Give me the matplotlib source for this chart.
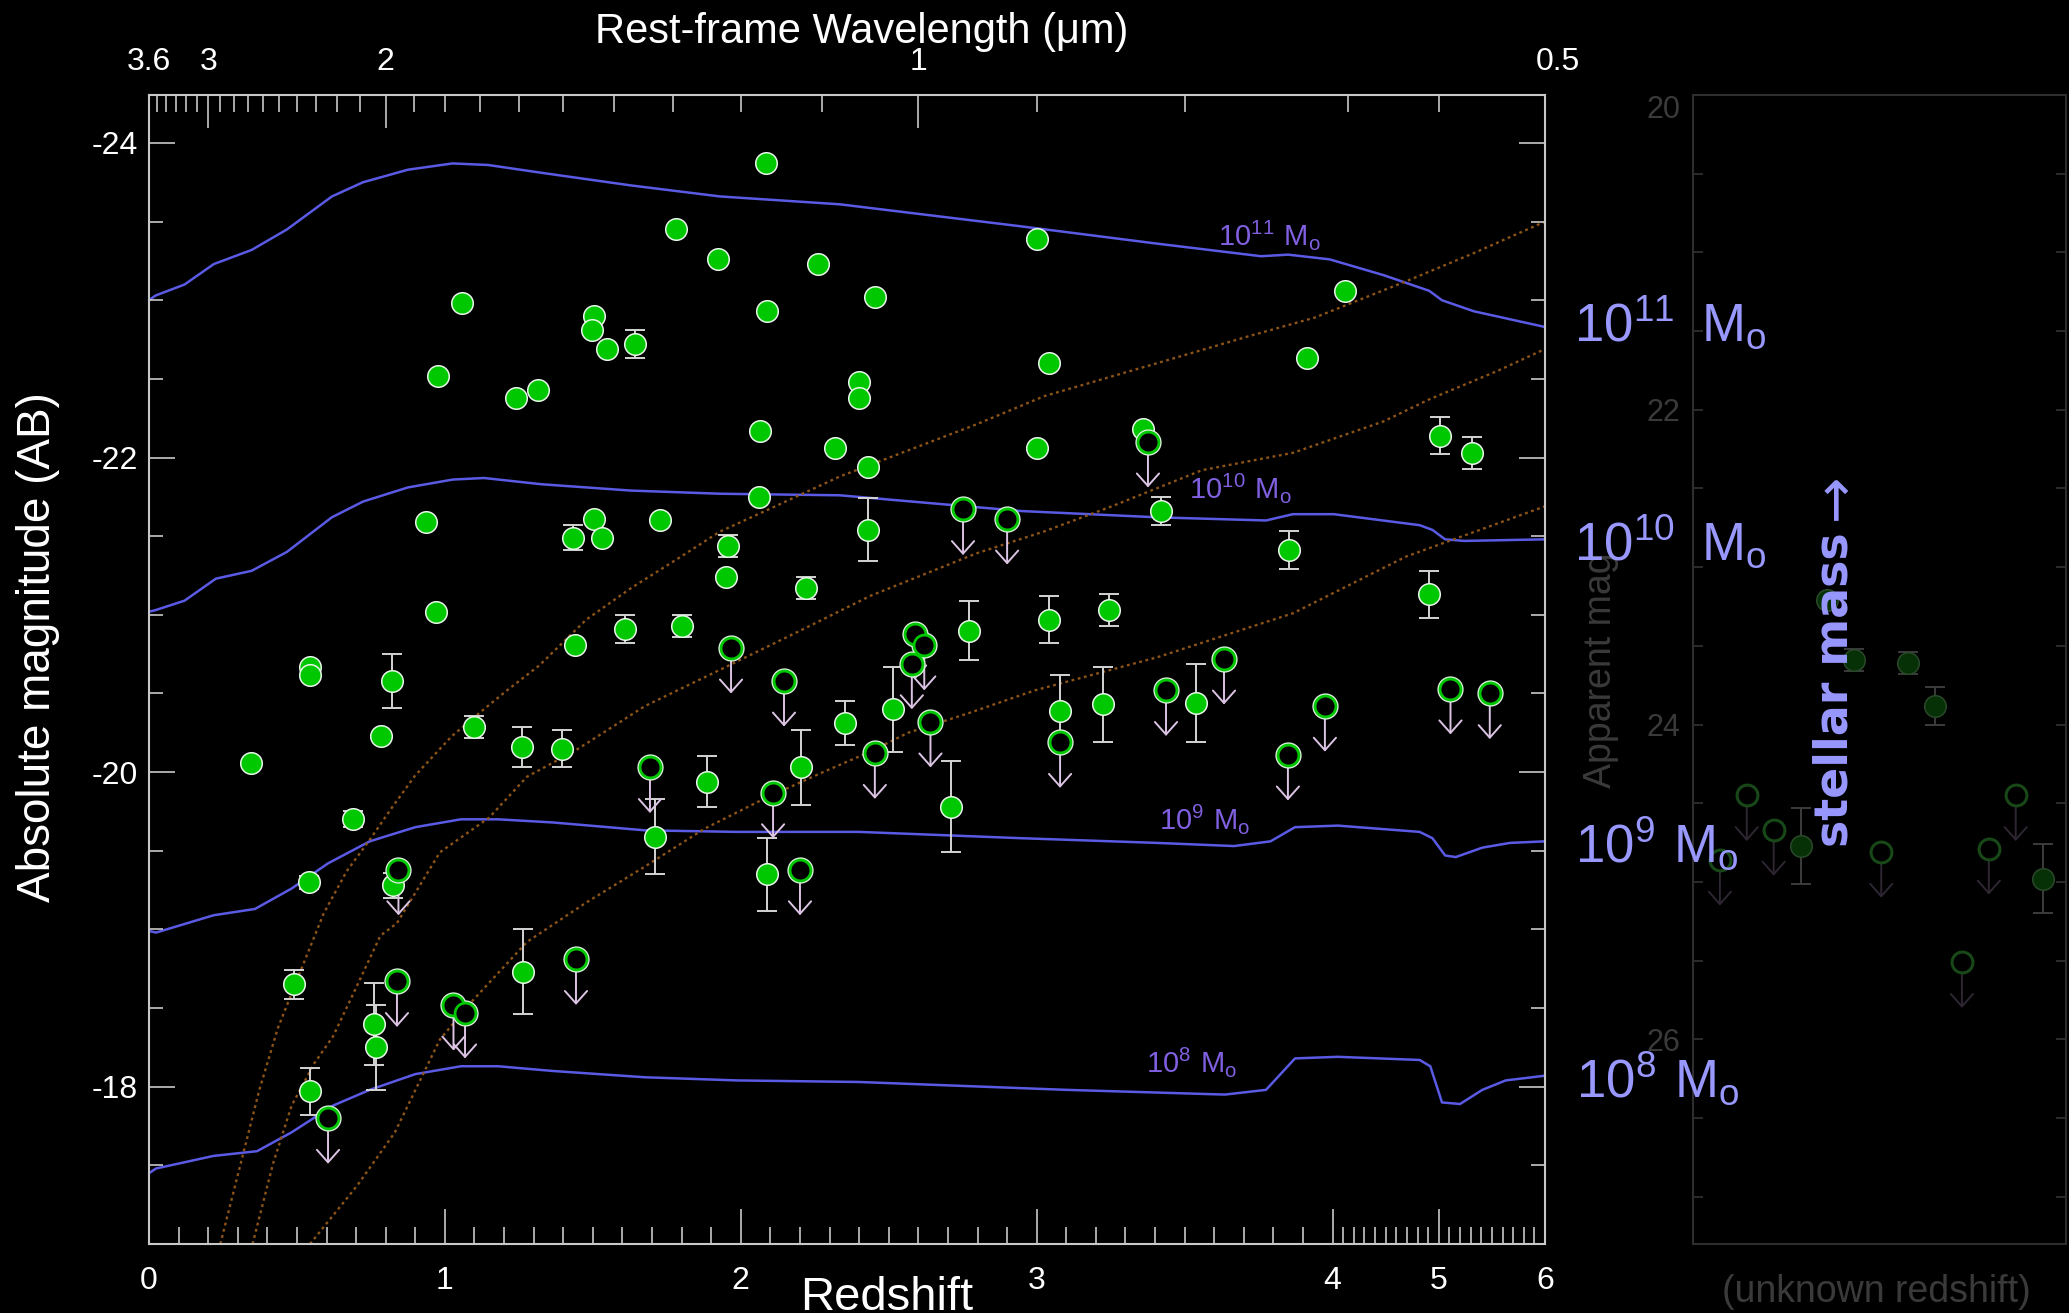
import numpy as np
import matplotlib
matplotlib.use('Agg')
import matplotlib.pyplot as plt

plt.rcParams['font.family'] = ['Liberation Sans', 'DejaVu Sans']
plt.rcParams['mathtext.default'] = 'regular'
plt.rcParams['axes.unicode_minus'] = False

# ---- stellar mass tracks: redshift vs absolute magnitude ----
trk11_z = [0.0, 0.022, 0.12, 0.219, 0.347, 0.466, 0.618, 0.723, 0.875, 1.026, 1.146, 1.328, 1.629,
           1.93, 2.335, 2.947, 3.407, 3.758, 3.85, 3.99, 4.478, 4.91, 5.03, 5.33, 6.0]
trk11_m = [-23.0, -23.03, -23.10, -23.23, -23.32, -23.45, -23.66, -23.75, -23.83, -23.87, -23.86, -23.81, -23.73,
           -23.66, -23.61, -23.47, -23.36, -23.28, -23.29, -23.26, -23.16, -23.06, -23.00, -22.93, -22.83]
trk10_z = [0.0, 0.022, 0.12, 0.226, 0.347, 0.466, 0.618, 0.723, 0.875, 1.026, 1.132, 1.328, 1.629,
           1.93, 2.335, 2.947, 3.407, 3.775, 3.866, 4.01, 4.82, 4.94, 5.06, 5.24, 6.0]
trk10_m = [-21.02, -21.03, -21.09, -21.23, -21.28, -21.40, -21.62, -21.72, -21.81, -21.86, -21.87, -21.83, -21.79,
           -21.77, -21.76, -21.66, -21.62, -21.60, -21.64, -21.64, -21.57, -21.54, -21.48, -21.47, -21.48]
trk9_z = [0.0, 0.024, 0.218, 0.358, 0.482, 0.605, 0.746, 0.90, 1.054, 1.18, 1.365, 1.676, 1.987, 2.40,
          2.947, 3.407, 3.667, 3.79, 3.873, 4.05, 4.82, 4.94, 5.06, 5.16, 5.41, 5.67, 6.0]
trk9_m = [-18.99, -18.98, -19.09, -19.13, -19.26, -19.42, -19.56, -19.65, -19.70, -19.70, -19.68, -19.63, -19.62, -19.62,
          -19.58, -19.55, -19.53, -19.56, -19.65, -19.66, -19.62, -19.58, -19.47, -19.46, -19.52, -19.55, -19.56]
trk8_z = [0.0, 0.024, 0.218, 0.365, 0.482, 0.622, 0.746, 0.90, 1.054, 1.18, 1.365, 1.676, 1.987, 2.40,
          3.10, 3.636, 3.775, 3.873, 4.05, 4.82, 4.92, 5.03, 5.20, 5.41, 5.63, 6.0]
trk8_m = [-17.45, -17.48, -17.56, -17.59, -17.71, -17.88, -17.98, -18.08, -18.13, -18.13, -18.10, -18.06, -18.04, -18.03,
          -17.98, -17.95, -17.98, -18.18, -18.19, -18.17, -18.13, -17.90, -17.89, -17.98, -18.04, -18.07]

# ---- detection limits (dotted) ----
limA_z = [0.241, 0.303, 0.373, 0.435, 0.513, 0.59, 0.668, 0.746, 0.823, 0.90, 1.024, 1.119, 1.21, 1.32,
          1.478, 1.629, 1.781, 1.93, 2.082, 2.335, 2.795, 3.025, 3.407, 3.714, 3.94, 4.69, 5.33, 6.0]
limA_m = [-17.00, -17.46, -17.98, -18.37, -18.74, -19.10, -19.37, -19.57, -19.78, -19.98, -20.23, -20.38, -20.52, -20.68,
          -20.97, -21.17, -21.35, -21.53, -21.66, -21.88, -22.21, -22.39, -22.60, -22.77, -22.89, -23.12, -23.30, -23.50]
limB_z = [0.35, 0.419, 0.482, 0.559, 0.622, 0.70, 0.782, 0.838, 0.983, 1.149, 1.277, 1.443, 1.568, 1.676,
          1.94, 2.212, 2.437, 2.795, 3.025, 3.254, 3.559, 3.866, 4.48, 4.91, 5.55, 6.0]
limB_m = [-17.00, -17.51, -17.88, -18.15, -18.32, -18.63, -18.96, -19.04, -19.49, -19.71, -19.97, -20.14, -20.29, -20.42,
          -20.66, -20.91, -21.12, -21.39, -21.53, -21.69, -21.92, -22.03, -22.23, -22.37, -22.55, -22.69]
limC_z = [0.544, 0.703, 0.831, 0.983, 1.09, 1.277, 1.477, 1.676, 1.877, 2.078, 2.278, 2.437, 2.565, 2.778,
          2.994, 3.407, 3.866, 4.69, 6.0]
limC_m = [-17.00, -17.37, -17.71, -18.30, -18.54, -18.92, -19.17, -19.40, -19.64, -19.83, -20.00, -20.13, -20.25, -20.38,
          -20.52, -20.73, -21.01, -21.37, -21.69]

# ---- galaxies with redshift: detections ----
det_z = [0.344, 0.545, 0.545, 0.54, 0.49, 0.544, 0.69, 0.784, 0.821, 0.823, 0.76, 0.767, 0.977, 0.97, 0.936,
         1.058, 1.10, 1.24, 1.315, 1.26, 1.264, 1.396, 1.433, 1.504, 1.53, 1.44, 1.504, 1.497, 1.548, 1.642,
         1.61, 1.727, 1.71, 1.78, 1.80, 1.886, 1.923, 1.957, 1.95, 2.065, 2.06, 2.085, 2.09, 2.09, 2.203,
         2.22, 2.26, 2.32, 2.352, 2.40, 2.40, 2.43, 2.43, 2.453, 2.514, 2.71, 2.77, 3.0, 3.0, 3.04,
         3.04, 3.08, 3.224, 3.245, 3.36, 3.42, 3.537, 3.853, 3.913, 4.116, 4.91, 5.01, 5.31]
det_m = [-20.06, -20.67, -20.62, -19.30, -18.65, -17.97, -19.70, -20.23, -20.58, -19.28, -18.40, -18.25, -22.52, -21.02, -21.59,
         -22.98, -20.29, -22.38, -22.43, -20.16, -18.73, -20.15, -21.49, -21.61, -21.49, -20.81, -22.90, -22.81, -22.69, -22.72,
         -20.91, -21.60, -19.59, -23.45, -20.93, -19.94, -23.26, -21.44, -21.24, -22.17, -21.75, -23.87, -22.93, -19.35, -20.03,
         -21.17, -23.23, -22.06, -20.31, -22.48, -22.38, -21.94, -21.54, -23.02, -20.40, -19.78, -20.90, -23.39, -22.06, -22.60,
         -20.97, -20.39, -20.43, -21.03, -22.18, -21.66, -20.44, -21.41, -22.63, -23.06, -21.13, -22.14, -22.03]
det_err = [0, 0, 0, 0.04, 0.09, 0.15, 0.05, 0, 0.17, 0.08, 0.26, 0.27, 0, 0, 0,
           0, 0.07, 0, 0, 0.13, 0.27, 0.12, 0.08, 0, 0, 0, 0, 0, 0, 0.09,
           0.09, 0, 0.24, 0, 0.07, 0.16, 0, 0.07, 0, 0, 0, 0, 0, 0.23, 0.24,
           0.07, 0, 0, 0.14, 0, 0, 0, 0.2, 0, 0.27, 0.29, 0.19, 0, 0, 0,
           0.15, 0.23, 0.24, 0.1, 0, 0.09, 0.25, 0.12, 0, 0, 0.15, 0.12, 0.1]

# ---- galaxies with redshift: upper limits ----
ul_z = [0.605, 0.843, 0.838, 1.029, 1.068, 1.443, 1.693, 1.967, 2.109, 2.146, 2.20, 2.453, 2.578,
        2.589, 2.62, 2.641, 2.751, 2.90, 3.079, 3.376, 3.437, 3.633, 3.849, 3.974, 5.11, 5.48]
ul_m = [-17.80, -19.38, -18.67, -18.52, -18.47, -18.81, -20.03, -20.79, -19.87, -20.58, -19.38, -20.12, -20.69,
        -20.88, -20.81, -20.32, -21.67, -21.61, -20.19, -22.10, -20.52, -20.72, -20.11, -20.42, -20.53, -20.50]

# ---- unknown redshift panel: apparent magnitude ----
unk_idx = [1, 2, 3, 4, 5, 6, 7, 8, 9, 10, 11, 12, 13]
unk_mag = [24.86, 24.45, 24.67, 24.77, 23.21, 23.59, 24.81, 23.61, 23.88, 25.51, 24.79, 24.45, 24.98]
unk_err = [0, 0, 0, 0.24, 0, 0.07, 0, 0.07, 0.12, 0, 0, 0, 0.22]
unk_limit = [1, 1, 1, 0, 0, 0, 1, 0, 0, 1, 1, 1, 0]

z_ticks = [0, 1, 2, 3, 4, 5, 6]
abs_ticks = [-24, -22, -20, -18]
wl_major = [3.6, 3, 2, 1]
wl_minor = [3.5, 3.4, 3.3, 3.2, 3.1, 2.9, 2.8, 2.7, 2.6, 2.5, 2.4, 2.3, 2.2, 2.1,
            1.9, 1.8, 1.7, 1.6, 1.5, 1.4, 1.3, 1.2, 1.1, 0.9, 0.8, 0.7, 0.6]
app_ticks = [20, 22, 24, 26]

W, H = 2069, 1313
def fx(x):
    return x / W
def fy(y):
    return 1 - y / H

fig = plt.figure(figsize=(W / 100, H / 100), dpi=100, facecolor='black')
L, R, T, B = 149, 1545, 95, 1244
ax = fig.add_axes([fx(L), fy(B), (R - L) / W, (B - T) / H], facecolor='black')

# redshift axis is compressed above z=4
SQ = 106.2 / 295.9
def fwd(z):
    z = np.asarray(z, dtype=float)
    return np.where(z <= 4, z, 4 + (z - 4) * SQ)
def inv(u):
    u = np.asarray(u, dtype=float)
    return np.where(u <= 4, u, 4 + (u - 4) / SQ)

ax.set_xscale('function', functions=(fwd, inv))
ax.set_xlim(0, 6)
ax.set_ylim(-17.01, -24.305)

TRACK = '#5a5ae4'
LIMIT = '#8c5418'
for zz, mm in [(trk11_z, trk11_m), (trk10_z, trk10_m), (trk9_z, trk9_m), (trk8_z, trk8_m)]:
    ax.plot(zz, mm, color=TRACK, lw=1.8, zorder=1)
for zz, mm in [(limA_z, limA_m), (limB_z, limB_m), (limC_z, limC_m)]:
    ax.plot(zz, mm, color=LIMIT, lw=1.7, ls=(0, (1.2, 1.5)), zorder=1)

dz = np.array(det_z); dm = np.array(det_m); de = np.array(det_err)
has = de > 0
ax.errorbar(dz[has], dm[has], yerr=de[has], fmt='none', ecolor='#d4d4d4',
            elinewidth=1.4, capsize=7, capthick=1.4, zorder=2)
ARROW = 0.29
for z, m in zip(ul_z, ul_m):
    ax.annotate('', xy=(z, m + ARROW), xytext=(z, m),
                arrowprops=dict(arrowstyle='->,head_length=0.45,head_width=0.4', color='#dcc4e4',
                                lw=1.4, shrinkA=0, shrinkB=0, mutation_scale=20), zorder=2)
ax.plot(dz, dm, 'o', ls='none', ms=15.5, mfc='#00c800', mec='#e8f8e8', mew=1.1, zorder=4)
ax.plot(ul_z, ul_m, 'o', ls='none', ms=15.5, mfc='none', mec='#d8f0d8', mew=3.4, zorder=4)
ax.plot(ul_z, ul_m, 'o', ls='none', ms=15, mfc='black', mec='#00c800', mew=2.0, zorder=5)

for s in ax.spines.values():
    s.set_color('#c8c8c8')
    s.set_linewidth(1.5)
ax.set_xticks(z_ticks, labels=[str(v) for v in z_ticks])
ax.set_xticks(np.arange(0, 6.001, 0.1), minor=True)
ax.set_yticks(abs_ticks, labels=[str(v) for v in abs_ticks])
ax.set_yticks(np.arange(-24.0, -16.99, 0.5), minor=True)
ax.tick_params(axis='both', which='both', direction='in', colors='#c8c8c8', labelcolor='white', labelsize=23)
ax.tick_params(axis='x', which='major', length=25, width=1.2, pad=16, top=False)
ax.tick_params(axis='x', which='minor', length=12, width=1.2, top=False)
ax.tick_params(axis='y', which='major', length=19, width=1.2, pad=8, left=True, right=True)
ax.tick_params(axis='y', which='minor', length=10, width=1.2, left=True, right=True)

# rest-frame wavelength on top
tw = ax.twiny()
tw.set_xscale('function', functions=(fwd, inv))
tw.set_xlim(0, 6)
tw.set_xticks([3.6 / w - 1 for w in wl_major], labels=['3.6', '3', '2', '1'])
tw.set_xticks([3.6 / w - 1 for w in wl_minor], minor=True)
for s in tw.spines.values():
    s.set_visible(False)
tw.tick_params(axis='x', which='both', direction='in', colors='#c8c8c8', labelcolor='white', labelsize=23)
tw.tick_params(axis='x', which='major', length=24, width=1.2, pad=13)
tw.tick_params(axis='x', which='minor', length=12, width=1.2)
fig.text(fx(1558), fy(62), '0.5', ha='center', va='center', color='white', fontsize=23)

fig.text(fx(38), fy(647), 'Absolute magnitude (AB)', rotation=90, ha='center', va='center',
         color='white', fontsize=33)
fig.text(fx(887), fy(1310), 'Redshift', ha='center', va='baseline', color='white', fontsize=34)
fig.text(fx(862), fy(43), 'Rest-frame Wavelength (μm)', ha='center', va='baseline', color='white', fontsize=30)

PURP = '#8060e0'
for x, y, s in [(1218, 245, r'$10^{11}\ M_o$'), (1189, 498, r'$10^{10}\ M_o$'),
                (1159, 829, r'$10^{9}\ M_o$'), (1146, 1072, r'$10^{8}\ M_o$')]:
    fig.text(fx(x), fy(y), s, color=PURP, fontsize=21, ha='left', va='baseline')

# unknown-redshift panel
ax2 = fig.add_axes([fx(1693), fy(B), (2066 - 1693) / W, (B - T) / H], facecolor='black')
ax2.set_xlim(0, 13.87)
ax2.set_ylim(27.30, 20.0)
ui = np.array(unk_idx); um = np.array(unk_mag); ue = np.array(unk_err); ul = np.array(unk_limit) == 1
he = ue > 0
ax2.errorbar(ui[he], um[he], yerr=ue[he], fmt='none', ecolor='#3c3c3c', elinewidth=1.4,
             capsize=7, capthick=1.4, zorder=2)
for x, m in zip(ui[ul], um[ul]):
    ax2.annotate('', xy=(x, m + ARROW), xytext=(x, m),
                 arrowprops=dict(arrowstyle='->,head_length=0.45,head_width=0.4', color='#2e2632',
                                 lw=1.4, shrinkA=0, shrinkB=0, mutation_scale=20), zorder=2)
ax2.plot(ui[~ul], um[~ul], 'o', ls='none', ms=15.5, mfc='#063006', mec='#2a482a', mew=1.1, zorder=4)
ax2.plot(ui[ul], um[ul], 'o', ls='none', ms=15, mfc='black', mec='#184818', mew=2.2, zorder=4)
for s in ax2.spines.values():
    s.set_color('#2e2e2e')
    s.set_linewidth(1.5)
ax2.set_xticks([])
ax2.set_yticks(app_ticks, labels=[str(v) for v in app_ticks])
ax2.set_yticks(np.arange(20, 27.01, 0.5), minor=True)
ax2.tick_params(axis='y', which='both', direction='in', left=True, right=True, colors='#333333',
                labelcolor='#3a3a3a', labelsize=22, length=7, width=1.2, pad=9)
ax2.get_yticklabels()[0].set_verticalalignment('top')

fig.text(fx(1601), fy(670), 'Apparent mag', rotation=90, ha='center', va='center',
         color='#3a3a3a', fontsize=27, zorder=1)
fig.text(fx(1876), fy(1292), '(unknown redshift)', ha='center', va='center', color='#3a3a3a', fontsize=27)

LAV = '#9898ff'
for x, y, s in [(1574, 341, r'$10^{11}\ \,M_o$'), (1574, 560, r'$10^{10}\ \,M_o$'),
                (1575, 862, r'$10^{9}\ M_o$'), (1576, 1097, r'$10^{8}\ M_o$')]:
    fig.text(fx(x), fy(y), s, color=LAV, fontsize=38, ha='left', va='baseline', zorder=6)
fig.text(fx(1835), fy(690), 'stellar mass', rotation=90, ha='center', va='center', color=LAV,
         fontsize=33, fontweight='bold', family=['DejaVu Sans'], zorder=6)
fig.text(fx(1837), fy(497), '→', rotation=90, ha='center', va='center', color=LAV,
         fontsize=40, family=['DejaVu Sans'], zorder=6)

fig.savefig('out.png', dpi=100, facecolor='black')
